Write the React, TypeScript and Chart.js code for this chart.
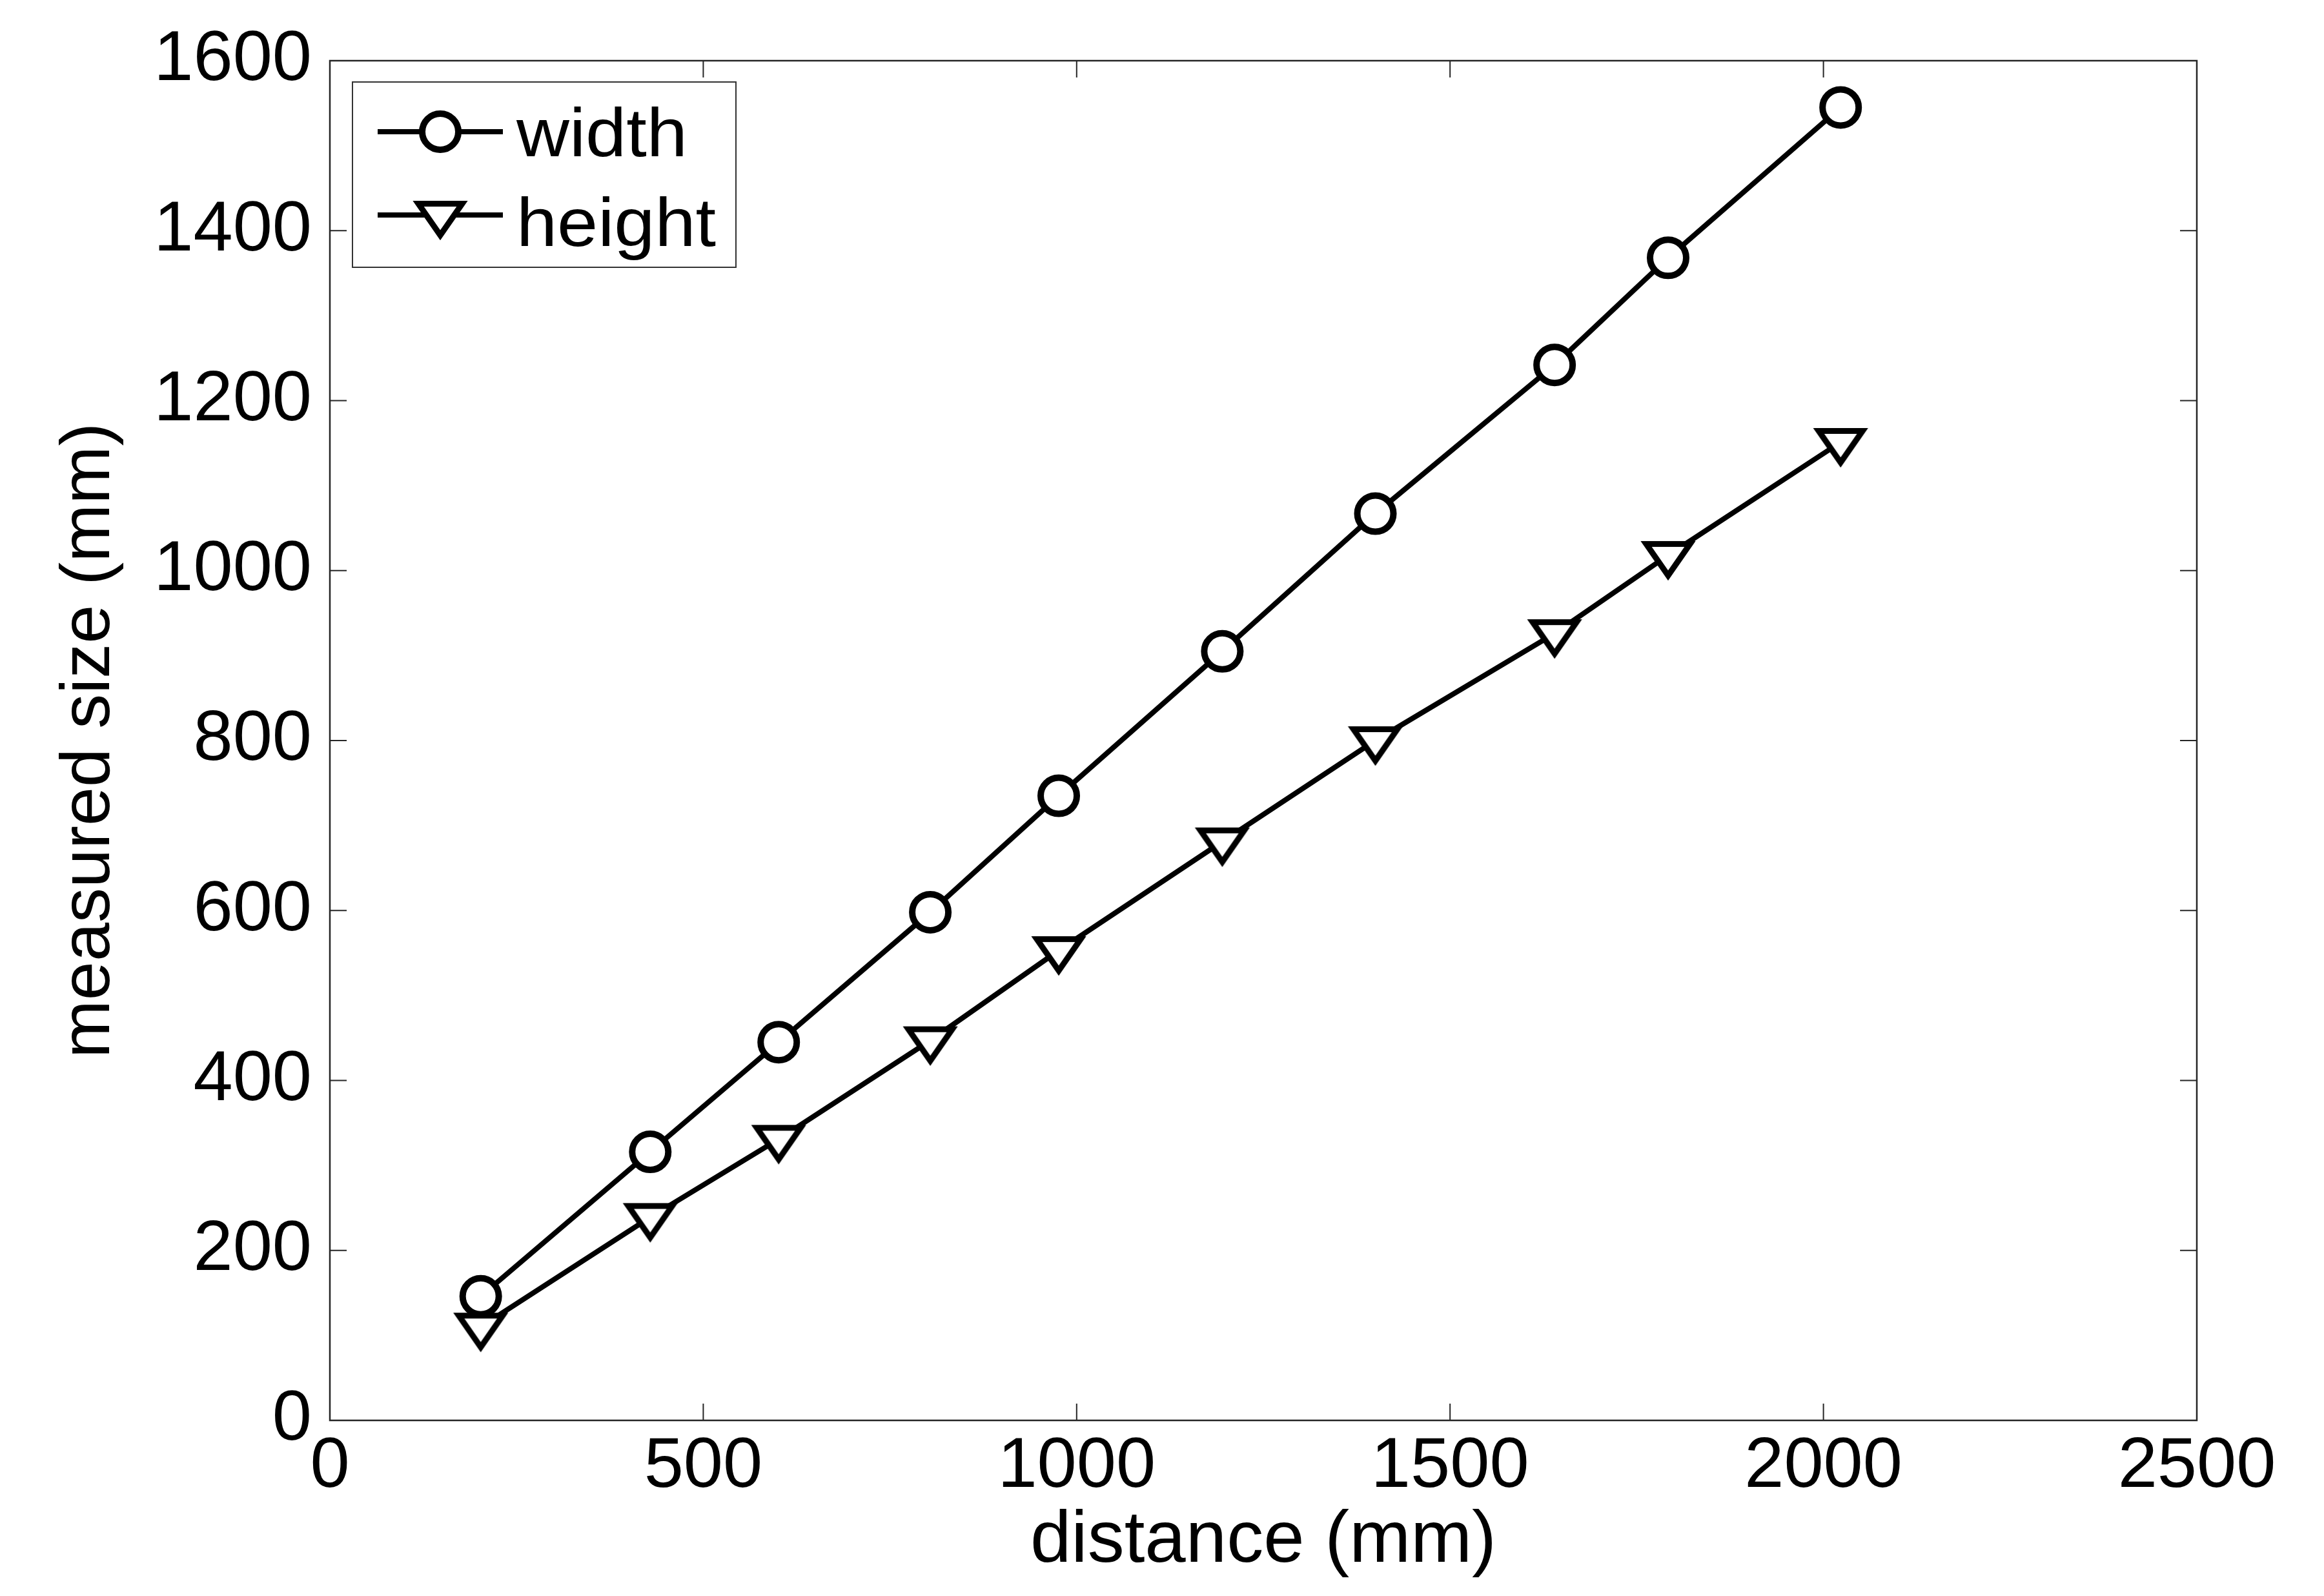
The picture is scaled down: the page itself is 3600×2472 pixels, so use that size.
import React, { useEffect, useRef } from 'react';
import { Chart, registerables } from 'chart.js';

Chart.register(...registerables);

// ---- data ----
const distances = [202, 429, 601, 804, 976, 1195, 1400, 1640, 1792, 2023];
const widthValues = [146, 316, 445, 598, 735, 905, 1067, 1242, 1368, 1545];
const heightValues = [110, 239, 331, 447, 553, 681, 800, 926, 1018, 1151];
const seriesNames = ['width', 'height'];
const xTicks = [0, 500, 1000, 1500, 2000, 2500];
const yTicks = [0, 200, 400, 600, 800, 1000, 1200, 1400, 1600];
const xTitle = 'distance (mm)';
const yTitle = 'measured size (mm)';

const FONT = '"Liberation Sans", Arial, Helvetica, sans-serif';

function makeTriangle(): HTMLCanvasElement {
  const c = document.createElement('canvas');
  c.width = 100;
  c.height = 92;
  const g = c.getContext('2d') as CanvasRenderingContext2D;
  const cx = 50;
  const top = 28.4;
  const half = 34;
  const h = 49;
  g.beginPath();
  g.moveTo(cx - half, top);
  g.lineTo(cx + half, top);
  g.lineTo(cx, top + h);
  g.closePath();
  g.fillStyle = '#ffffff';
  g.fill();
  g.lineWidth = 9;
  g.lineJoin = 'miter';
  g.miterLimit = 10;
  g.strokeStyle = '#000000';
  g.stroke();
  return c;
}

const framePlugin = {
  id: 'matlabFrame',
  beforeDatasetsDraw(chart: any) {
    const { ctx, chartArea: a, scales } = chart;
    ctx.save();
    ctx.strokeStyle = '#262626';
    ctx.lineWidth = 2.5;
    ctx.strokeRect(a.left, a.top, a.right - a.left, a.bottom - a.top);
    const tl = 26;
    ctx.lineWidth = 2;
    ctx.beginPath();
    for (const v of xTicks) {
      const px = scales.x.getPixelForValue(v);
      ctx.moveTo(px, a.bottom);
      ctx.lineTo(px, a.bottom - tl);
      ctx.moveTo(px, a.top);
      ctx.lineTo(px, a.top + tl);
    }
    for (const v of yTicks) {
      const py = scales.y.getPixelForValue(v);
      ctx.moveTo(a.left, py);
      ctx.lineTo(a.left + tl, py);
      ctx.moveTo(a.right, py);
      ctx.lineTo(a.right - tl, py);
    }
    ctx.stroke();
    ctx.restore();
  },
};

const legendPlugin = {
  id: 'boxLegend',
  afterDatasetsDraw(chart: any) {
    const { ctx, chartArea: a } = chart;
    const bx = a.left + 35;
    const by = a.top + 33;
    const bw = 594;
    const bh = 287;
    ctx.save();
    ctx.fillStyle = '#ffffff';
    ctx.fillRect(bx, by, bw, bh);
    ctx.strokeStyle = '#333333';
    ctx.lineWidth = 2;
    ctx.strokeRect(bx, by, bw, bh);
    chart.data.datasets.forEach((ds: any, i: number) => {
      const cy = by + 77 + i * 129;
      ctx.strokeStyle = ds.borderColor;
      ctx.lineWidth = ds.borderWidth;
      ctx.beginPath();
      ctx.moveTo(bx + 39, cy);
      ctx.lineTo(bx + 233, cy);
      ctx.stroke();
      const mx = bx + 136;
      const ps = ds.pointStyle;
      if (ps && typeof ps === 'object') {
        ctx.drawImage(ps, mx - ps.width / 2, cy - ps.height / 2);
      } else {
        ctx.beginPath();
        ctx.arc(mx, cy, ds.pointRadius, 0, Math.PI * 2);
        ctx.fillStyle = '#ffffff';
        ctx.fill();
        ctx.lineWidth = ds.pointBorderWidth;
        ctx.strokeStyle = ds.pointBorderColor;
        ctx.stroke();
      }
      ctx.save();
      ctx.translate(bx + 254, by + 115 + i * 139);
      ctx.scale(1.07, 1);
      ctx.fillStyle = '#000000';
      ctx.font = `106px ${FONT}`;
      ctx.textAlign = 'left';
      ctx.textBaseline = 'alphabetic';
      ctx.fillText(ds.label, 0, 0);
      ctx.restore();
    });
    ctx.restore();
  },
};

export default function App() {
  const ref = useRef<HTMLCanvasElement | null>(null);

  useEffect(() => {
    const canvas = ref.current;
    if (!canvas) return;
    Chart.defaults.font.family = FONT;
    const tri = makeTriangle();
    const chart = new Chart(canvas, {
      type: 'line',
      data: {
        datasets: [
          {
            label: seriesNames[0],
            data: distances.map((x, i) => ({ x, y: widthValues[i] })),
            borderColor: '#000000',
            borderWidth: 8,
            pointStyle: 'circle',
            pointRadius: 28,
            pointBorderWidth: 10,
            pointBackgroundColor: '#ffffff',
            pointBorderColor: '#000000',
            tension: 0,
            fill: false,
          },
          {
            label: seriesNames[1],
            data: distances.map((x, i) => ({ x, y: heightValues[i] })),
            borderColor: '#000000',
            borderWidth: 8,
            pointStyle: tri as any,
            pointRadius: 28,
            pointBorderWidth: 9,
            pointBackgroundColor: '#ffffff',
            pointBorderColor: '#000000',
            tension: 0,
            fill: false,
          },
        ],
      },
      options: {
        animation: false,
        responsive: false,
        devicePixelRatio: 1,
        layout: { padding: { left: 0, top: 93, right: 197, bottom: 0 } },
        plugins: {
          legend: { display: false },
          tooltip: { enabled: false },
        },
        scales: {
          x: {
            type: 'linear',
            min: 0,
            max: 2500,
            afterBuildTicks: (s: any) => {
              s.ticks = xTicks.map((v) => ({ value: v }));
            },
            ticks: {
              autoSkip: false,
              maxRotation: 0,
              padding: 7,
              color: '#000000',
              font: { size: 110, lineHeight: 1.2 },
              callback: (v: any) => String(v),
            },
            grid: { display: false, drawTicks: false },
            border: { display: false },
            title: {
              display: true,
              text: xTitle,
              color: '#000000',
              font: { size: 114, lineHeight: 1.2 },
              padding: { top: 0, bottom: 16 },
            },
            afterFit: (s: any) => {
              s.height = 272;
            },
          },
          y: {
            type: 'linear',
            min: 0,
            max: 1600,
            afterBuildTicks: (s: any) => {
              s.ticks = yTicks.map((v) => ({ value: v }));
            },
            ticks: {
              autoSkip: false,
              padding: 28,
              color: '#000000',
              font: { size: 110, lineHeight: 1.2 },
              callback: (v: any) => String(v),
            },
            grid: { display: false, drawTicks: false },
            border: { display: false },
            title: {
              display: true,
              text: yTitle,
              color: '#000000',
              font: { size: 108, lineHeight: 1.2 },
              padding: { top: 74, bottom: 0 },
            },
            afterFit: (s: any) => {
              s.width = 511;
            },
          },
        },
      } as any,
      plugins: [framePlugin, legendPlugin],
    });
    return () => chart.destroy();
  }, []);

  return (
    <div style={{ position: 'fixed', left: 0, top: 0, width: 3600, height: 2472, background: '#ffffff' }}>
      <canvas ref={ref} width={3600} height={2472} style={{ display: 'block', width: 3600, height: 2472 }} />
    </div>
  );
}
